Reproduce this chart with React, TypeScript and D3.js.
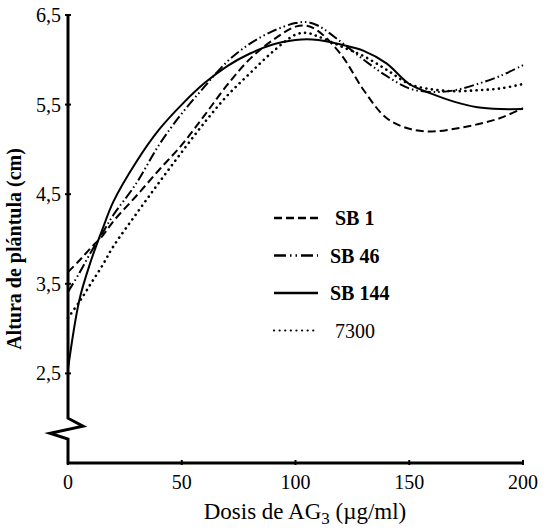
import React from "react";
import * as d3 from "d3";

const doses = [0, 5, 10, 15, 20, 30, 40, 50, 60, 70, 80, 90, 100, 105, 110, 120, 130, 140, 150, 160, 170, 180, 190, 200];

const sb1 = [3.63, 3.76, 3.9, 4.03, 4.2, 4.48, 4.77, 5.05, 5.38, 5.72, 6.01, 6.22, 6.37, 6.38, 6.32, 6.06, 5.66, 5.35, 5.23, 5.2, 5.23, 5.28, 5.35, 5.46];
const sb46 = [3.41, 3.62, 3.85, 4.06, 4.27, 4.62, 5.05, 5.4, 5.7, 5.98, 6.18, 6.32, 6.41, 6.42, 6.38, 6.2, 6.0, 5.82, 5.68, 5.64, 5.66, 5.73, 5.82, 5.94];
const sb144 = [2.55, 3.32, 3.75, 4.1, 4.42, 4.86, 5.22, 5.5, 5.74, 5.93, 6.07, 6.17, 6.22, 6.23, 6.22, 6.17, 6.1, 5.96, 5.73, 5.62, 5.53, 5.47, 5.45, 5.45];
const v7300 = [3.12, 3.3, 3.5, 3.7, 3.92, 4.28, 4.63, 4.97, 5.3, 5.6, 5.85, 6.09, 6.28, 6.3, 6.26, 6.15, 6.04, 5.89, 5.73, 5.67, 5.65, 5.66, 5.68, 5.73];

const xTicks = [0, 50, 100, 150, 200];
const yTicks = [2.5, 3.5, 4.5, 5.5, 6.5];
const yTickLabels = ["2,5", "3,5", "4,5", "5,5", "6,5"];

const seriesNames = ["SB 1", "SB 46", "SB 144", "7300"];
const seriesValues = [sb1, sb46, sb144, v7300];
const dashes = ["8 4", "10 3 1.5 3 1.5 3", null, "0.1 5.5"];
const boldLabel = [true, true, true, false];

const W = 549;
const H = 530;
const FONT = "'Liberation Serif', 'Times New Roman', serif";

const x = d3.scaleLinear().domain([0, 200]).range([68, 523]);
const y = d3.scaleLinear().domain([1.5, 6.5]).range([463, 15]);

const line = d3
  .line<[number, number]>()
  .x(d => x(d[0]))
  .y(d => y(d[1]))
  .curve(d3.curveCatmullRom.alpha(0.5));

const App = () => {
  const x0 = x(0);
  const breakTop = y(2.0);
  const axisPath = [
    `M${x0},${y(6.5)}`,
    `L${x0},${breakTop}`,
    `L${x0 + 15},${breakTop + 8}`,
    `L${x0 - 18},${breakTop + 15}`,
    `L${x0},${breakTop + 21}`,
    `L${x0},${y(1.5)}`,
    `L${x(200)},${y(1.5)}`,
  ].join(" ");

  return (
    <svg width={W} height={H} style={{ position: "absolute", left: 0, top: 0, background: "#fff" }}>
      <rect width={W} height={H} fill="#fff" />
      {seriesValues.map((vals, i) => (
        <path
          key={i}
          d={line(doses.map((d, j) => [d, vals[j]] as [number, number])) || ""}
          fill="none"
          stroke="#000"
          strokeWidth={i === 3 ? 2.6 : 2}
          strokeLinecap={i === 3 ? "round" : "butt"}
          strokeDasharray={dashes[i] || undefined}
        />
      ))}

      <path d={axisPath} fill="none" stroke="#000" strokeWidth={3} strokeLinejoin="miter" />

      {yTicks.map((t, i) => (
        <g key={t}>
          <line x1={x0 - 3} x2={x0 + 3} y1={y(t)} y2={y(t)} stroke="#000" strokeWidth={2} />
          <text x={x0 - 7} y={y(t) + 7} textAnchor="end" fontFamily={FONT} fontSize={20}>
            {yTickLabels[i]}
          </text>
        </g>
      ))}

      {xTicks.map(t => (
        <g key={t}>
          <line x1={x(t)} x2={x(t)} y1={y(1.5) - 3} y2={y(1.5) + 2} stroke="#000" strokeWidth={2} />
          <text x={x(t)} y={y(1.5) + 26} textAnchor="middle" fontFamily={FONT} fontSize={20}>
            {t}
          </text>
        </g>
      ))}

      <text x={305} y={519} textAnchor="middle" fontFamily={FONT} fontSize={23}>
        Dosis de AG<tspan dy={5} fontSize={17}>3</tspan>
        <tspan dy={-5}> (µg/ml)</tspan>
      </text>

      <text
        transform={`translate(21, 249) rotate(-90)`}
        textAnchor="middle"
        fontFamily={FONT}
        fontSize={20}
        fontWeight="bold"
      >
        Altura de plántula (cm)
      </text>

      {seriesNames.map((name, i) => {
        const ly = 218 + i * 37.5;
        return (
          <g key={name}>
            <line
              x1={274}
              x2={318}
              y1={ly}
              y2={ly}
              stroke="#000"
              strokeWidth={i === 3 ? 2.2 : 2.5}
              strokeLinecap={i === 3 ? "round" : "butt"}
              strokeDasharray={i === 3 ? "0.1 5.5" : i === 1 ? "12 4 1.5 4 1.5 4" : dashes[i] || undefined}
            />
            <text
              x={i === 0 || i === 3 ? 335 : 330}
              y={ly + 7}
              fontFamily={FONT}
              fontSize={20}
              fontWeight={boldLabel[i] ? "bold" : "normal"}
            >
              {name}
            </text>
          </g>
        );
      })}
    </svg>
  );
};

export default App;
